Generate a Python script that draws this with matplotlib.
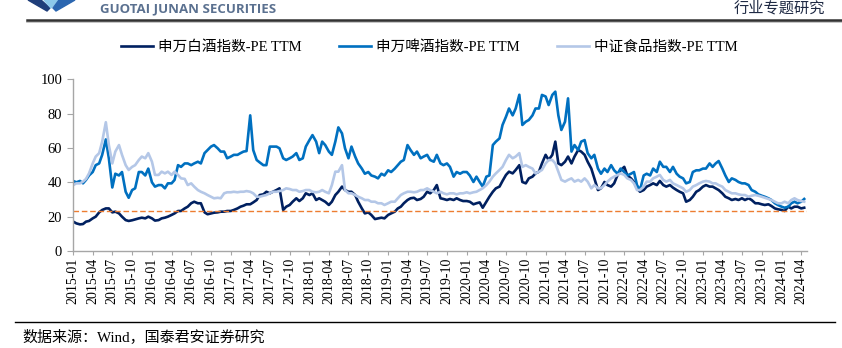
import matplotlib
matplotlib.use("Agg")
import matplotlib.pyplot as plt
import matplotlib.dates as mdates
from matplotlib.lines import Line2D
from matplotlib.patches import Polygon
import pandas as pd

# semi-monthly readings, 2015-01 .. 2024-04
baijiu = [
    17.1, 16.1, 15.5, 15.7, 17.1, 17.5, 19, 20, 22.5, 23.9, 24.8, 24.8, 22.5, 22.9, 21.9, 20,
    18, 17.5, 17.9, 18.4, 19, 19.4, 19, 20, 19, 17.7, 18, 19, 19.4, 20, 21, 21.9,
    23.3, 23.3, 24.8, 25.8, 27.8, 28.7, 27.8, 27.8, 22.5, 21.4, 21.9, 22.3, 22.5, 22.9, 22.9, 23.3,
    23.3, 23.9, 24.8, 25.8, 26.4, 27.2, 27.2, 28.3, 29.7,
    32.6, 33, 34.5, 33.6, 34.5, 35.5, 36.5, 23.9, 25.8, 26.8, 28.7, 30.7, 29.1, 30.7, 33.6, 32.6,
    33.6, 29.7, 30.7, 29.7, 28.7, 26.8, 28.7, 32.6, 34.5, 37.5, 35.5, 34.5, 34.5, 32.6, 28.7, 24.8,
    21.9, 22.5, 21, 18.6, 19, 19.4, 19, 21, 21.9, 22.9, 24.8, 25.8, 27.8, 29.7, 30.7, 31,
    29.7, 30.3, 31.6, 34.5, 33.6, 35.5, 38.4, 30.7,
    30.3, 29.7, 30.3, 29.7, 30.7, 29.7, 29.1, 29.1, 28.7, 27.2, 27.8, 28.3, 25.2, 28.7, 31.6, 34.5,
    36.5, 37.5, 40.8, 44.3, 46.2, 45.2, 47.2, 50, 40.2, 39.4, 42.3, 43.3, 45.2, 46.2, 51, 56,
    53, 56, 63.7, 51, 50, 52, 55, 51, 55, 58.8, 57.9, 56, 52, 48, 42.3, 35.5,
    36.5, 40.2, 38.4, 37.5, 39.4, 44.3, 47, 49,
    44, 42.3, 40.2, 36.5, 34.5, 35.5, 37.5, 38.4, 39.4, 38.4, 40.8, 38.4, 37.5, 38.4, 36.9, 35.5,
    34.5, 33.6, 28.7, 29.7, 31.6, 34.5, 35.5, 37.5, 38.4, 37.5, 37.5, 36.5, 35.5, 33.6, 31.6, 30.7,
    29.7, 30.3, 29.7, 30.7, 29.7, 30.7, 29.7, 27.8, 27.8, 27.2, 26.8, 27.2, 26.2, 24.8, 24.3, 23.9,
    23.3, 25.8, 24.8, 25.8, 25.8, 24.8, 25.2,
]
beer = [
    40.8, 40, 40.8, 39.4, 41.4, 44, 46, 50, 51, 56, 65, 54, 37, 45, 44, 46,
    34.5, 31, 35.5, 36.5, 46, 46, 44, 48, 40, 37.5, 38.4, 38.4, 36.5, 39.4, 39.4, 41.4,
    50, 49, 51, 51, 50, 51, 52, 51, 57, 58.8, 60.8, 61.7, 59.8, 57.9, 57.9, 54,
    55, 56, 56, 57, 57.9, 58.2, 79, 58.8, 53,
    51.6, 50, 50, 60.8, 60.8, 60.8, 59.8, 54, 53, 54, 55, 57, 53, 54, 60.8, 64.6,
    67.5, 63.7, 57, 63.7, 61.7, 57.9, 56, 63.7, 72, 68.5, 59.8, 54, 60.8, 55, 51, 48,
    45, 46, 44, 43.3, 42.3, 45, 44, 47, 46, 48, 50, 52, 53, 61.7, 58.8, 56,
    57.9, 54, 55, 56, 53, 52, 56, 51,
    50, 51, 49, 43.3, 46, 45, 46, 46, 44, 40.2, 43.3, 40.2, 37.5, 43.3, 44, 61.7,
    63.7, 65.6, 73.4, 78.2, 83, 79, 83, 91, 73.4, 75.3, 76.3, 79, 83, 83, 90.9, 90,
    85, 90.9, 92.8, 79, 70.5, 75.3, 88.9, 57.9, 61.7, 58.8, 63.7, 64.6, 57, 54, 56, 48,
    45, 48, 46, 50, 47, 45, 48, 46,
    44, 45, 46, 38.4, 35.5, 44, 45, 44, 48, 46, 52, 49, 49, 46, 49, 45,
    43.3, 42.3, 39.4, 40.2, 46, 47, 47, 48, 48, 51, 49, 51, 52.4, 48, 44, 40.2,
    42.3, 41.4, 40.2, 39.4, 39.4, 38.4, 35.5, 34.5, 33, 32.2, 31.6, 30.7, 29.7, 27.8, 26.8, 25.8,
    25.2, 25.8, 27.8, 28.7, 27.8, 28.7, 30.3,
]
food = [
    38.4, 39.4, 39.4, 40.4, 42, 45.2, 51, 55, 57, 63.7, 75, 61.7, 51, 57.9, 61.7, 56,
    50, 47.2, 49, 50, 53, 55, 54, 57, 52, 44.3, 44.3, 46.2, 45.2, 46.2, 44.3, 46.2,
    44.3, 42.3, 42, 38.4, 39.4, 37.5, 35.5, 34.5, 33.6, 32.6, 31.6, 30.7, 31, 30.7, 33.6, 34.2,
    34.2, 34.5, 34.2, 34.5, 34.5, 34.9, 34.5, 33.6, 31.6,
    31.6, 32.2, 32.6, 33.6, 34.5, 34.5, 34.9, 35.5, 36.5, 36.1, 35.5, 35.5, 34.5, 34.9, 35.5, 35.5,
    34.5, 34.2, 34.5, 35.5, 34.5, 33.6, 38.4, 46.2, 46.2, 50, 35.5, 33.6, 33.6, 32.6, 31.6, 30.7,
    29.7, 29.7, 28.7, 28.7, 27.8, 27.8, 26.8, 27.8, 28.7, 28.7, 30.7, 32.6, 33.6, 34.5, 34.5, 34.2,
    34.5, 35.5, 35.5, 36.5, 35.5, 34.5, 33.6, 34.5,
    33.6, 33, 33.6, 33.6, 33, 33.6, 33.6, 34.2, 33.6, 34.2, 34.5, 35.5, 36.5, 38.4, 40.4, 43.3,
    45.2, 47.2, 49, 53, 56, 54, 55, 57, 49, 50, 49, 48, 45.2, 46.2, 47.2, 51,
    53, 53, 51, 46.2, 41.4, 40.4, 41.4, 42.3, 40.4, 41.4, 40.4, 42.3, 40.4, 36.5, 38.4, 36.5,
    36.5, 38.4, 40.4, 42.3, 43.3, 44.3, 45.2, 44.3,
    42.3, 41.4, 39.4, 35.5, 35.5, 37.5, 40.4, 40.4, 42.3, 43.3, 44.3, 41.4, 40.4, 41.4, 39.4, 38.4,
    37.5, 36.5, 34.5, 35.5, 37.5, 38.4, 39.4, 40.4, 40.8, 40.4, 39.4, 39.4, 38.4, 37.5, 35.5, 34.5,
    33.6, 33.6, 33, 32.6, 32.6, 31.6, 32.2, 32.6, 32.2, 31.6, 31, 30.3, 29.7, 28.7, 27.8, 27.8,
    28.7, 27.8, 29.7, 30.7, 29.7, 29.1, 28.7,
]
ref_level = 23.4
labels = ["申万白酒指数-PE TTM", "申万啤酒指数-PE TTM", "中证食品指数-PE TTM"]
colors = ["#002060", "#0070C0", "#B4C7E7"]

dates = pd.date_range("2015-01-01", periods=len(beer), freq="SMS")

W, H = 842, 348
fig = plt.figure(figsize=(W / 100, H / 100), dpi=100)
ax = fig.add_axes([73.3 / W, 1 - 251 / H, (807 - 73.3) / W, (251 - 79.3) / H])

serif = ["Liberation Serif", "Noto Sans CJK SC"]

for vals, lab, c in zip([baijiu, beer, food], labels, colors):
    ax.plot(dates, vals, color=c, lw=1.9, label=lab, solid_joinstyle="round")
ax.axhline(ref_level, color="#ED7D31", lw=1.0, ls=(0, (4, 2)))

ax.set_ylim(0, 100)
ax.set_yticks(range(0, 101, 20))
ax.set_xlim(pd.Timestamp("2015-01-01"), pd.Timestamp("2024-04-28"))
ax.xaxis.set_major_locator(mdates.MonthLocator(bymonth=[1, 4, 7, 10]))
ax.xaxis.set_major_formatter(mdates.DateFormatter("%Y-%m"))

for s in ["top", "right"]:
    ax.spines[s].set_visible(False)
for s in ["left", "bottom"]:
    ax.spines[s].set_color("#A6A6A6")
    ax.spines[s].set_linewidth(1.0)
ax.tick_params(axis="x", direction="out", length=3, color="#A6A6A6", pad=2)
ax.tick_params(axis="y", direction="out", length=4, color="#A6A6A6", pad=4)
for t in ax.get_xticklabels():
    t.set_rotation(90)
    t.set_fontfamily(serif)
    t.set_fontsize(10)
for t in ax.get_yticklabels():
    t.set_fontfamily(serif)
    t.set_fontsize(10.5)

fig.legend(loc="center", bbox_to_anchor=(0.51, 1 - 47 / H), ncol=3, frameon=False,
           handlelength=2.2, handletextpad=0.3, columnspacing=2.6,
           prop={"family": serif, "size": 10.5})

# header
def px(x, y):
    return (x / W, 1 - y / H)

fig.add_artist(Polygon([px(28, 0), px(41, 0), px(50, 8), px(47, 11)], closed=True,
                       color="#1F3E7A", transform=fig.transFigure))
fig.add_artist(Polygon([px(44, 0), px(58, 0), px(51, 8)], closed=True,
                       color="#8CC8EA", transform=fig.transFigure))
fig.add_artist(Polygon([px(59, 0), px(75, 0), px(56, 11), px(53, 8)], closed=True,
                       color="#2B66B0", transform=fig.transFigure))
fig.text(100 / W, 1 - 8.5 / H, "GUOTAI JUNAN SECURITIES", fontsize=9.5, fontweight="bold",
         family="Open Sans", color="#5B7190", va="center", ha="left")
fig.text(825 / W, 1 - 8 / H, "行业专题研究", fontsize=11, family="Noto Sans CJK SC",
         color="#1F2A44", va="center", ha="right")
fig.add_artist(Line2D([27 / W, 1.0], [1 - 21.5 / H] * 2, color="#BBBBBB", lw=1.2,
                      transform=fig.transFigure))
fig.add_artist(Line2D([27 / W, 1.0], [1 - 20 / H] * 2, color="#333333", lw=1.8,
                      transform=fig.transFigure))

# footer
fig.add_artist(Line2D([15 / W, 835 / W], [1 - 322 / H] * 2, color="black", lw=1.0,
                      transform=fig.transFigure))
fig.text(22 / W, 1 - 337 / H, "数据来源：Wind，国泰君安证券研究", fontsize=10.8,
         family=serif, color="black", va="center", ha="left")

fig.savefig("out.png", dpi=100)
